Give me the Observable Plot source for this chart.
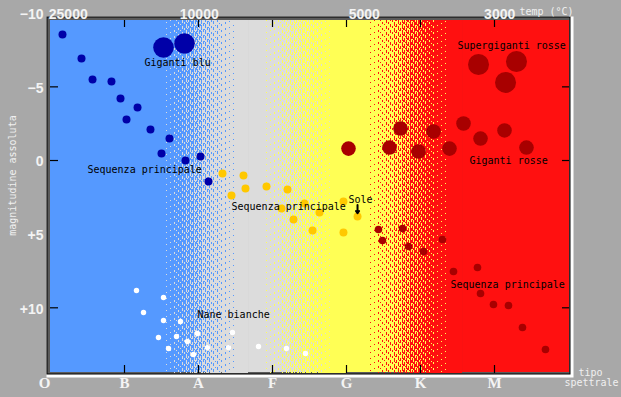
<!DOCTYPE html>
<html><head><meta charset="utf-8">
<script src="https://cdn.jsdelivr.net/npm/d3@7"></script>
<script src="https://cdn.jsdelivr.net/npm/@observablehq/plot@0.6"></script>
<style>html,body{margin:0;padding:0;background:#a8a8a8;} #chart svg{display:block}</style>
</head><body><div id="chart"></div>
<script>
// ---- axis labels ----
const spectralClasses = ["O","B","A","F","G","K","M"];
const spectralPos = [-0.08,1,2,3,4,5,6];
const tempLabels = ["25000","10000","5000","3000"];
const tempPos = [0.24, 2.01, 4.24, 6.07];
const magTicks = [-10,-5,0,5,10];
const magLabels = ["\u221210","\u22125","0","+5","+10"];
const tickMarksX = [1,2,3,4,5,6];
const tickMarksY = [-5,0,10];

// ---- background bands (spectral units) ----
const bandEdges = [0, 2.676, 4.0, 5.568, 519/74];
const bandColors = ["#5599ff","#dcdcdc","#ffff55","#ff1010"];
const zoneStart = [1.486, 2.865, 4.216];
const zoneEnd = [2.676, 4.0, 5.568];
const zoneColor = ["#dcdcdc","#ffff55","#ff1010"];

// ---- stars: x = spectral position, y = absolute magnitude ----
const blueMainX = [0.162,0.419,0.568,0.824,0.946,1.176,1.027,1.351,1.608,1.500,1.824,2.027,2.135];
const blueMainY = [-8.55,-6.92,-5.50,-5.36,-4.21,-3.60,-2.78,-2.10,-1.49,-0.48,0.00,-0.27,1.43];
const blueGiantX = [1.527,1.811];
const blueGiantY = [-7.67,-7.94];
const yellowMainX = [2.324,2.608,2.446,2.635,2.919,3.203,3.122,3.432,3.284,3.635,3.541,3.959,3.959];
const yellowMainY = [0.88,1.02,2.38,1.90,1.77,1.97,3.26,2.92,4.01,3.53,4.75,2.78,4.89];
const sunX = [4.149];
const sunY = [3.80];
const redMainX = [4.432,4.486,4.757,4.838,5.041,5.297,5.446,5.770,5.811,5.986,6.189,6.378,6.689];
const redMainY = [4.68,5.43,4.62,5.84,6.18,5.36,7.54,7.26,9.03,9.78,9.84,11.34,12.83];
const redGiantX = [4.027,4.581,4.730,4.973,5.176,5.392,5.581,5.811,6.135,6.432];
const redGiantY = [-0.81,-0.88,-2.17,-0.61,-1.97,-0.81,-2.51,-1.49,-2.04,-0.88];
const superGiantX = [5.784,6.297,6.149];
const superGiantY = [-6.52,-6.72,-5.30];
const whiteDwarfX = [1.162,1.527,1.257,1.527,1.757,1.459,1.703,1.986,1.851,1.595,1.932,2.122,2.405,2.459,2.811,3.189,3.446];
const whiteDwarfY = [8.83,9.30,10.32,10.86,10.93,12.02,11.95,11.74,12.29,12.76,13.17,12.70,12.70,11.68,12.63,12.76,13.10];

// ---- annotations ----
const annoText = ["Giganti blu","Sequenza principale","Sequenza principale","Nane bianche","Supergiganti rosse","Giganti rosse","Sequenza principale","Sole"];
const annoX = [1.270,0.500,2.446,1.986,5.500,5.662,5.405,4.027];
const annoY = [-6.65,0.61,3.12,10.45,-7.81,0.00,8.42,2.65];

const pts = (xs, ys) => xs.map((x,i)=>({x, y: ys[i]}));

const xDom = [0, 519/74];
const yDom = [-9.505, 14.46];
const pxX = 1/74;

// dithered transition stripes (decoration)
const stripeCols = [];
zoneStart.forEach((s,i)=>{
  const n = Math.round((zoneEnd[i]-s)/pxX);
  const c0 = Math.round(s/pxX);
  for (let j=0;j<n;j++){
    const c = c0+j;
    const t = j/n;
    const thr = [0,0.5,0.25,0.75][c%4];
    const cov = Math.max(0, Math.min(1, 2*t - thr));
    const k = Math.round(cov*6);
    if (k>0) stripeCols.push({x: c*pxX, color: zoneColor[i], k, o: (c*2)%6});
  }
});
const stripeMarks = d3.groups(stripeCols, d=>d.k, d=>d.o).flatMap(([k, og]) =>
  og.map(([o, arr]) => Plot.ruleX(arr, {x:"x", stroke:"color", strokeWidth:1,
    strokeDasharray: k>=6 ? null : `${k} ${6-k}`, strokeDashoffset: o})));

const numFont = {fill:"#f4f4f4", fontSize:14, fontWeight:"bold", fontFamily:"Liberation Sans"};
const monoWhite = {fill:"#f0f0f0", fontSize:10, fontFamily:"DejaVu Sans Mono"};

const chart = Plot.plot({
  width: 621, height: 397,
  marginLeft: 50, marginRight: 52, marginTop: 20, marginBottom: 24,
  x: {domain: xDom, range:[50,569], axis:null},
  y: {domain: yDom, range:[20,373], axis:null},
  color: {type:"identity"},
  style: {background:"#a8a8a8", overflow:"visible"},
  marks: [
    Plot.frame({fill:"white", stroke:"none", insetTop:-4, insetLeft:-4, insetRight:-4, insetBottom:-4}),
    Plot.frame({fill:"black", stroke:"none", insetTop:-4, insetLeft:-4, insetRight:-1, insetBottom:-1}),
    Plot.frame({fill:"#5a5a5a", stroke:"none", insetTop:-3, insetLeft:-3, insetRight:0, insetBottom:0}),
    Plot.rect(d3.range(bandColors.length), {x1: i=>bandEdges[i], x2: i=>bandEdges[i+1], fill: i=>bandColors[i], insetRight:0, insetBottom:1}),
    ...stripeMarks,
    // stars
    Plot.dot(pts(whiteDwarfX, whiteDwarfY), {x:"x", y:"y", r:2.7, fill:"white"}),
    Plot.dot(pts(blueMainX, blueMainY), {x:"x", y:"y", r:4, fill:"#0000a8"}),
    Plot.dot(pts(blueGiantX, blueGiantY), {x:"x", y:"y", r:10.3, fill:"#0000a8"}),
    Plot.dot(pts(yellowMainX, yellowMainY), {x:"x", y:"y", r:4, fill:"#ffc800"}),
    Plot.dot(pts(sunX, sunY), {x:"x", y:"y", r:4, fill:"#ffc800"}),
    Plot.dot(pts(redMainX, redMainY), {x:"x", y:"y", r:3.8, fill:"#a80000"}),
    Plot.dot(pts(redGiantX, redGiantY), {x:"x", y:"y", r:7.3, fill:"#a80000"}),
    Plot.dot(pts(superGiantX, superGiantY), {x:"x", y:"y", r:10.5, fill:"#a80000"}),
    Plot.arrow(pts(sunX, sunY), {x1:"x", x2:"x", y1: d=>d.y-0.78, y2: d=>d.y-0.22, stroke:"black", strokeWidth:2, headLength:6, headAngle:70}),
    // annotations
    Plot.text(annoText, {x:(d,i)=>annoX[i], y:(d,i)=>annoY[i], text:d=>d, textAnchor:"start", fill:"black", fontSize:10, fontFamily:"DejaVu Sans Mono"}),
    // axis labels
    Plot.text(tempLabels, {x:(d,i)=>tempPos[i], text:d=>d, frameAnchor:"top", dy:-11, ...numFont}),
    Plot.text(spectralClasses, {x:(d,i)=>spectralPos[i], text:d=>d, frameAnchor:"bottom", dy:14, fill:"#f4f4f4", fontSize:15, fontWeight:"bold", fontFamily:"Liberation Serif"}),
    Plot.text(magLabels, {y:(d,i)=>magTicks[i], text:d=>d, frameAnchor:"left", dx:-7, dy:1.5, textAnchor:"end", ...numFont}),
    Plot.text(["magnitudine assoluta"], {x: ()=>-0.514, y: ()=>1.02, text:d=>d, rotate:-90, ...monoWhite}),
    Plot.text(["temp (\u00b0C)"], {x: ()=>6.703, text:d=>d, frameAnchor:"top", dy:-13, ...monoWhite}),
    Plot.text(["tipo"], {x: ()=>7.297, text:d=>d, frameAnchor:"bottom", dy:2, ...monoWhite}),
    Plot.text(["spettrale"], {x: ()=>7.311, text:d=>d, frameAnchor:"bottom", dy:12, ...monoWhite}),
    // ticks (inside the frame), drawn last
    Plot.ruleX(tickMarksX, {x: d=>d, insetBottom:346, stroke:"black", strokeWidth:1.2}),
    Plot.ruleX(tickMarksX, {x: d=>d, insetTop:345, stroke:"black", strokeWidth:1.2}),
    Plot.ruleY(tickMarksY, {y: d=>d, insetRight:511, stroke:"black", strokeWidth:1.2}),
    Plot.ruleY(tickMarksY, {y: d=>d, insetLeft:512, stroke:"black", strokeWidth:1.2})
  ]
});
document.getElementById("chart").appendChild(chart);
</script></body></html>
